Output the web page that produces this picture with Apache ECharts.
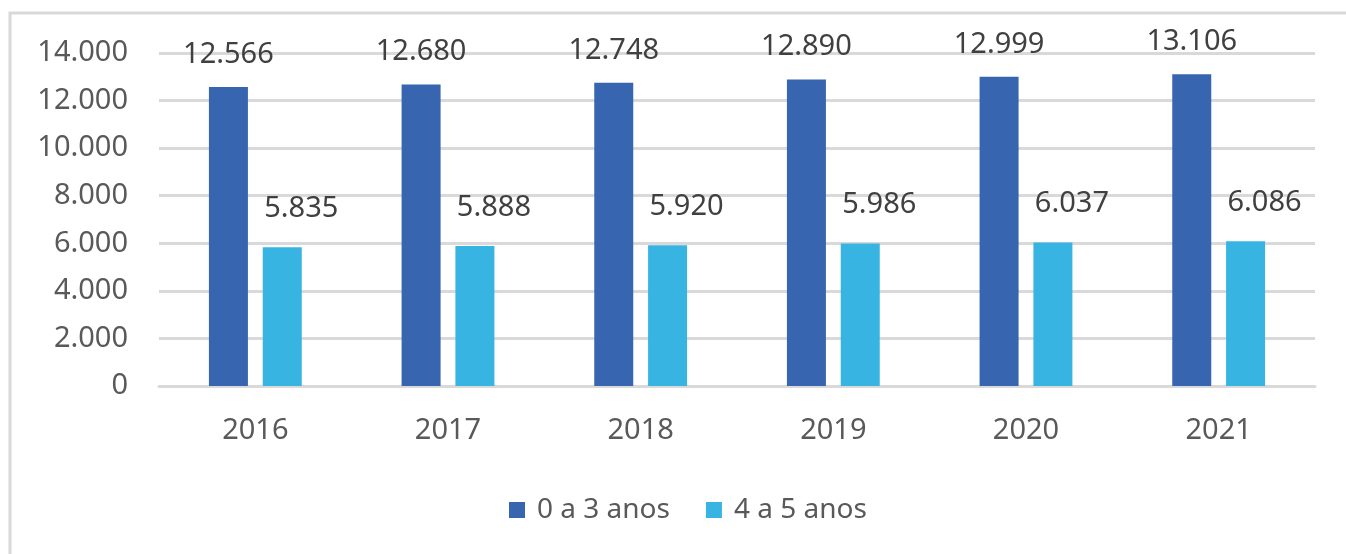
<!DOCTYPE html>
<html>
<head>
<meta charset="utf-8">
<script src="https://cdn.jsdelivr.net/npm/echarts@6/dist/echarts.min.js"></script>
<style>
  html, body { margin: 0; padding: 0; background: #fff; }
  #chart { width: 1346px; height: 554px; }
</style>
</head>
<body>
<div id="chart"></div>
<script>
  var years = ['2016', '2017', '2018', '2019', '2020', '2021'];
  var seriesNames = ['0 a 3 anos', '4 a 5 anos'];
  var ages0to3 = [12566, 12680, 12748, 12890, 12999, 13106];
  var ages4to5 = [5835, 5888, 5920, 5986, 6037, 6086];

  var textColor = '#595959';
  var font = 'Noto Sans';

  function fmt(v) {
    return String(v).replace(/\B(?=(\d{3})+(?!\d))/g, '.');
  }

  var chart = echarts.init(document.getElementById('chart'));
  chart.setOption({
    backgroundColor: '#FFFFFF',
    animation: false,
    textStyle: { fontFamily: font },
    graphic: [{
      type: 'rect',
      shape: { x: 10, y: 13, width: 1400, height: 600 },
      style: { fill: 'none', stroke: '#D9D9D9', lineWidth: 3 },
      silent: true
    }],
    grid: { left: 159, right: 31, top: 53, bottom: 168 },
    legend: {
      data: seriesNames,
      left: 504,
      top: 491,
      itemWidth: 16,
      itemHeight: 16,
      itemGap: 36,
      icon: 'rect',
      textStyle: { color: textColor, fontSize: 28, fontFamily: font, padding: [0, 0, 0, 7] }
    },
    xAxis: {
      type: 'category',
      data: years,
      axisLine: { lineStyle: { color: '#D9D9D9', width: 3 } },
      axisTick: { show: false },
      axisLabel: { color: textColor, fontSize: 29, margin: 30, fontFamily: font }
    },
    yAxis: {
      type: 'value',
      min: 0,
      max: 14000,
      interval: 2000,
      axisLine: { show: false },
      axisTick: { show: false },
      splitLine: { lineStyle: { color: '#D9D9D9', width: 3 } },
      axisLabel: {
        color: textColor, fontSize: 29, margin: 31, fontFamily: font,
        formatter: function (v) { return fmt(v); }
      }
    },
    series: [
      {
        name: seriesNames[0],
        type: 'bar',
        data: ages0to3,
        barWidth: 39,
        barGap: '38%',
        itemStyle: { color: '#3765AF' },
        label: {
          show: true, position: 'top', distance: 18,
          color: '#404040', fontSize: 29, fontFamily: font,
          formatter: function (p) { return fmt(p.value); }
        }
      },
      {
        name: seriesNames[1],
        type: 'bar',
        data: ages4to5,
        barWidth: 39,
        itemStyle: { color: '#38B4E3' },
        label: {
          show: true, position: 'top', distance: 24, offset: [19, 0],
          color: '#404040', fontSize: 29, fontFamily: font,
          formatter: function (p) { return fmt(p.value); }
        }
      }
    ]
  });
</script>
</body>
</html>
